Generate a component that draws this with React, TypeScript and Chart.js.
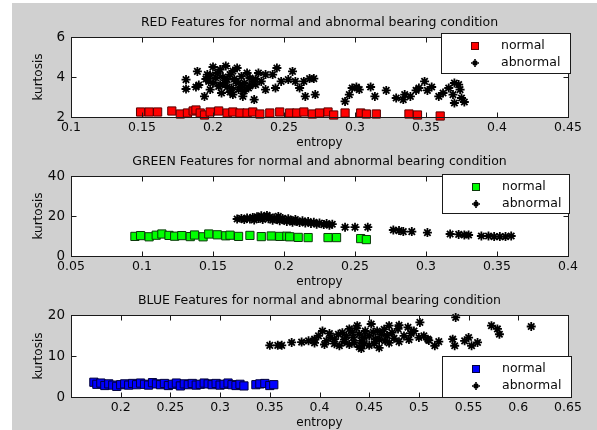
import React, { useEffect, useRef } from "react";
import { Chart, registerables } from "chart.js";
Chart.register(...registerables);

// ---------- data ----------
const redNormal: number[][] = [
  [0.149, 2.25], [0.155, 2.25], [0.161, 2.25], [0.171, 2.3], [0.177, 2.15], [0.182, 2.2], [0.186, 2.3],
  [0.188, 2.35], [0.191, 2.2], [0.194, 2.1], [0.198, 2.25], [0.204, 2.3], [0.21, 2.2], [0.214, 2.25],
  [0.219, 2.2], [0.224, 2.2], [0.228, 2.25], [0.233, 2.15], [0.24, 2.2], [0.247, 2.25], [0.254, 2.2],
  [0.259, 2.2], [0.264, 2.25], [0.27, 2.15], [0.275, 2.2], [0.281, 2.25], [0.285, 2.1], [0.293, 2.2],
  [0.304, 2.2], [0.308, 2.15], [0.315, 2.15], [0.338, 2.15], [0.344, 2.1], [0.36, 2.05],
];
const redAbnormal: number[][] = [
  [0.181, 3.87], [0.181, 3.4], [0.188, 3.5], [0.189, 4.28], [0.194, 3.03], [0.196, 4.12], [0.197, 3.78],
  [0.198, 3.37], [0.2, 4.5], [0.202, 3.95], [0.204, 3.53], [0.205, 4.37], [0.206, 3.2], [0.208, 3.7],
  [0.209, 4.55], [0.21, 3.87], [0.212, 4.12], [0.213, 3.45], [0.214, 3.12], [0.216, 3.78], [0.217, 4.45],
  [0.218, 3.37], [0.22, 4.03], [0.221, 3.03], [0.222, 3.7], [0.224, 4.2], [0.225, 3.45], [0.226, 3.95],
  [0.228, 3.78], [0.229, 2.87], [0.23, 3.62], [0.232, 4.2], [0.234, 3.78], [0.237, 4.12], [0.237, 3.37],
  [0.242, 4.12], [0.244, 3.45], [0.245, 4.45], [0.248, 3.78], [0.253, 3.87], [0.256, 4.28], [0.258, 3.78],
  [0.261, 3.45], [0.264, 3.78], [0.265, 3.03], [0.268, 3.92], [0.271, 3.92], [0.272, 3.12], [0.293, 2.78],
  [0.296, 3.12], [0.298, 3.45], [0.301, 3.5], [0.303, 3.37], [0.311, 3.5], [0.314, 3.03], [0.322, 3.33],
  [0.329, 2.95], [0.334, 2.87], [0.335, 3.12], [0.339, 3.03], [0.343, 3.33], [0.345, 3.45], [0.349, 3.78],
  [0.351, 3.33], [0.354, 3.5], [0.359, 3.03], [0.362, 3.2], [0.366, 3.45], [0.369, 3.12], [0.37, 3.7],
  [0.373, 3.62], [0.374, 3.37], [0.375, 2.95], [0.377, 2.75], [0.37, 2.7],
  [0.205, 3.6], [0.21, 3.5], [0.215, 3.9], [0.2, 3.7], [0.195, 3.9], [0.218, 3.7], [0.222, 3.3],
  [0.207, 4.0], [0.212, 3.25], [0.198, 4.1], [0.226, 3.55], [0.23, 3.9], [0.19, 3.6], [0.203, 4.2],
  [0.214, 4.3], [0.22, 3.5],
];
const greenNormal: number[][] = [
  [0.095, 9.8], [0.099, 10.2], [0.105, 9.6], [0.11, 10.4], [0.114, 11.0], [0.119, 10.3], [0.123, 9.9],
  [0.128, 10.2], [0.134, 9.7], [0.137, 10.5], [0.143, 9.6], [0.147, 11.0], [0.153, 10.6], [0.159, 10.1],
  [0.162, 10.4], [0.168, 9.8], [0.176, 10.3], [0.184, 9.7], [0.191, 10.0], [0.197, 9.8], [0.202, 9.9],
  [0.204, 9.6], [0.21, 9.3], [0.217, 9.2], [0.231, 9.2], [0.237, 9.2], [0.254, 8.7], [0.258, 8.2],
];
const greenAbnormal: number[][] = [
  [0.167, 18.5], [0.17, 18.8], [0.172, 18.2], [0.174, 19.0], [0.176, 18.5], [0.178, 19.3], [0.179, 18.0],
  [0.181, 19.6], [0.182, 18.7], [0.184, 20.1], [0.185, 18.3], [0.186, 19.2], [0.188, 20.3], [0.189, 18.6],
  [0.19, 19.5], [0.192, 17.9], [0.193, 19.0], [0.195, 18.4], [0.196, 19.8], [0.197, 17.6], [0.199, 18.8],
  [0.2, 18.0], [0.202, 17.3], [0.203, 18.6], [0.205, 17.8], [0.206, 16.9], [0.208, 18.2], [0.209, 17.4],
  [0.211, 16.8], [0.213, 17.6], [0.215, 16.5], [0.217, 17.2], [0.219, 16.3], [0.221, 16.9], [0.223, 15.9],
  [0.225, 16.5], [0.228, 15.7], [0.23, 16.2], [0.232, 15.4], [0.234, 15.9],
  [0.243, 14.4], [0.25, 14.4], [0.259, 14.4], [0.277, 13.0], [0.281, 12.7], [0.284, 12.2], [0.29, 12.2],
  [0.301, 11.7], [0.317, 11.0], [0.323, 10.8], [0.327, 10.5], [0.33, 10.5], [0.339, 10.0], [0.344, 10.0],
  [0.348, 9.7], [0.352, 9.7], [0.356, 9.7], [0.36, 10.0],
];
const blueNormal: number[][] = [
  [0.173, 3.6], [0.176, 3.1], [0.18, 3.4], [0.184, 2.8], [0.188, 3.2], [0.192, 2.9], [0.196, 2.6],
  [0.2, 3.0], [0.204, 3.2], [0.208, 2.9], [0.212, 3.3], [0.216, 3.0], [0.22, 3.4], [0.224, 3.1],
  [0.228, 2.9], [0.232, 3.5], [0.236, 3.2], [0.24, 3.0], [0.244, 3.3], [0.248, 2.8], [0.252, 3.1],
  [0.256, 3.4], [0.26, 2.7], [0.264, 3.2], [0.268, 3.0], [0.272, 3.3], [0.276, 2.9], [0.28, 3.1],
  [0.284, 3.4], [0.288, 3.2], [0.292, 3.0], [0.296, 3.3], [0.3, 2.9], [0.304, 3.1], [0.308, 3.4],
  [0.312, 3.0], [0.316, 2.8], [0.32, 3.1], [0.324, 2.7], [0.336, 3.0], [0.34, 3.2], [0.345, 3.3],
  [0.35, 2.8], [0.354, 3.0],
];
const blueAbnormal: number[][] = [
  [0.35, 12.6], [0.358, 12.6], [0.362, 12.6], [0.372, 13.3], [0.382, 13.4], [0.389, 13.7], [0.395, 14.1],
  [0.399, 14.9], [0.403, 16.1], [0.407, 13.7], [0.411, 14.5], [0.415, 14.1], [0.419, 15.3], [0.423, 15.7],
  [0.427, 14.9], [0.43, 16.6], [0.434, 14.5], [0.438, 17.4], [0.44, 15.3], [0.442, 13.7], [0.446, 16.1],
  [0.45, 14.9], [0.452, 17.8], [0.456, 14.1], [0.458, 16.1], [0.462, 15.3], [0.466, 13.7], [0.47, 17.4],
  [0.473, 15.7], [0.479, 16.6], [0.485, 14.9], [0.489, 17.0], [0.495, 16.1], [0.501, 18.2], [0.505, 14.9],
  [0.509, 14.1], [0.516, 12.5], [0.534, 14.1], [0.536, 12.5], [0.537, 19.4], [0.546, 13.7], [0.553, 12.5],
  [0.559, 13.3], [0.573, 17.4], [0.579, 16.6], [0.581, 15.3], [0.613, 17.2], [0.55, 14.5],
  [0.415, 13.0], [0.42, 12.5], [0.425, 13.5], [0.43, 12.8], [0.435, 13.2], [0.44, 12.2], [0.445, 13.0],
  [0.45, 12.6], [0.433, 15.8], [0.445, 14.5], [0.455, 13.0], [0.46, 14.0], [0.465, 16.5], [0.47, 13.2],
  [0.475, 14.3], [0.48, 13.5], [0.49, 14.0], [0.48, 17.5], [0.5, 14.5], [0.51, 13.8], [0.52, 13.5],
  [0.425, 14.0], [0.41, 15.5], [0.395, 13.2], [0.405, 12.8], [0.437, 16.8], [0.454, 15.8], [0.468, 15.0],
  [0.492, 15.5], [0.46, 12.0], [0.442, 11.8],
];

const redXTicks = [0.1, 0.15, 0.2, 0.25, 0.3, 0.35, 0.4, 0.45];
const redYTicks = [2, 4, 6];
const greenXTicks = [0.05, 0.1, 0.15, 0.2, 0.25, 0.3, 0.35, 0.4];
const greenYTicks = [0, 20, 40];
const blueXTicks = [0.15, 0.2, 0.25, 0.3, 0.35, 0.4, 0.45, 0.5, 0.55, 0.6, 0.65];
const blueXLabelHidden = [0.15];
const blueYTicks = [0, 10, 20];

const titles = [
  "RED Features for normal and abnormal bearing condition",
  "GREEN Features for normal and abnormal bearing condition",
  "BLUE Features for normal and abnormal bearing condition",
];
const seriesNames = ["normal", "abnormal"];
const xTitle = "entropy";
const yTitle = "kurtosis";

// ---------- styling / layout ----------
const FONT = "'DejaVu Sans', Arial, sans-serif";
const TICK_FONT_SIZE = 12.5;
const FIG_BG = "#d0d0d0";
const TEXT = "#0a0a0a";

type Panel = {
  top: number;
  height: number;
  padTop: number;
  xAxisH: number;
  titlePadBottom: number;
  title: string;
  normal: number[][];
  abnormal: number[][];
  fill: string;
  edge: string;
  xTicks: number[];
  hidden: number[];
  yTicks: number[];
  legend: { x: number; y: number; w: number; h: number };
};

const panels: Panel[] = [
  {
    top: 0, height: 150, padTop: 37, xAxisH: 33, titlePadBottom: 0, title: titles[0],
    normal: redNormal, abnormal: redAbnormal, fill: "#ff0000", edge: "#5a0000",
    xTicks: redXTicks, hidden: [], yTicks: redYTicks,
    legend: { x: 441, y: 33, w: 129, h: 40 },
  },
  {
    top: 150, height: 140, padTop: 26, xAxisH: 34, titlePadBottom: 1, title: titles[1],
    normal: greenNormal, abnormal: greenAbnormal, fill: "#00ff00", edge: "#0a3a0a",
    xTicks: greenXTicks, hidden: [], yTicks: greenYTicks,
    legend: { x: 442, y: 24, w: 127, h: 39 },
  },
  {
    top: 290, height: 140, padTop: 25, xAxisH: 33, titlePadBottom: 0, title: titles[2],
    normal: blueNormal, abnormal: blueAbnormal, fill: "#0000ff", edge: "#00003a",
    xTicks: blueXTicks, hidden: blueXLabelHidden, yTicks: blueYTicks,
    legend: { x: 442, y: 66, w: 129, h: 41 },
  },
];

const fmt = (v: number) => String(Number(v.toFixed(3)));

function drawStar(ctx: CanvasRenderingContext2D, x: number, y: number, r: number) {
  ctx.beginPath();
  ctx.moveTo(x - r, y); ctx.lineTo(x + r, y);
  ctx.moveTo(x, y - r); ctx.lineTo(x, y + r);
  const d = r * 0.5;
  ctx.moveTo(x - d, y - d); ctx.lineTo(x + d, y + d);
  ctx.moveTo(x - d, y + d); ctx.lineTo(x + d, y - d);
  ctx.stroke();
}

function makeChart(canvas: HTMLCanvasElement, p: Panel) {
  const bgPlugin = {
    id: "areaBg",
    beforeDraw(chart: any) {
      const { ctx, chartArea: a } = chart;
      ctx.save();
      ctx.fillStyle = "#ffffff";
      ctx.fillRect(a.left, a.top, a.right - a.left, a.bottom - a.top);
      ctx.restore();
    },
  };
  const framePlugin = {
    id: "frame",
    afterDatasetsDraw(chart: any) {
      const { ctx, chartArea: a, scales } = chart;
      const L = Math.round(a.left) + 0.5, R = Math.round(a.right) + 0.5;
      const T = Math.round(a.top) + 0.5, B = Math.round(a.bottom) + 0.5;
      ctx.save();
      ctx.strokeStyle = "#1a1a1a";
      ctx.lineWidth = 1;
      ctx.strokeRect(L, T, R - L, B - T);
      const tl = 5;
      ctx.beginPath();
      for (const v of p.xTicks) {
        const px = Math.round(scales.x.getPixelForValue(v)) + 0.5;
        ctx.moveTo(px, B); ctx.lineTo(px, B - tl);
        ctx.moveTo(px, T); ctx.lineTo(px, T + tl);
      }
      for (const v of p.yTicks) {
        const py = Math.round(scales.y.getPixelForValue(v)) + 0.5;
        ctx.moveTo(L, py); ctx.lineTo(L + tl, py);
        ctx.moveTo(R, py); ctx.lineTo(R - tl, py);
      }
      ctx.stroke();
      ctx.restore();
    },
    afterDraw(chart: any) {
      const { ctx, chartArea: a } = chart;
      ctx.save();
      // title
      ctx.fillStyle = TEXT;
      ctx.font = `12.5px ${FONT}`;
      ctx.textAlign = "center";
      ctx.textBaseline = "middle";
      ctx.fillText(p.title, (a.left + a.right) / 2, a.top - 14.5);
      // legend
      const lg = p.legend;
      ctx.fillStyle = "#ffffff";
      ctx.fillRect(lg.x, lg.y, lg.w, lg.h);
      ctx.strokeStyle = "#1a1a1a";
      ctx.lineWidth = 1;
      ctx.strokeRect(lg.x + 0.5, lg.y + 0.5, lg.w, lg.h);
      const mx = lg.x + 34;
      const r1 = lg.y + 13, r2 = lg.y + 30;
      ctx.fillStyle = p.fill;
      ctx.strokeStyle = p.edge;
      ctx.fillRect(mx - 4, r1 - 4, 8, 8);
      ctx.strokeRect(mx - 4 + 0.5, r1 - 4 + 0.5, 7, 7);
      ctx.strokeStyle = "#000";
      ctx.lineWidth = 1.6;
      drawStar(ctx, mx, r2, 4);
      ctx.fillStyle = TEXT;
      ctx.font = `12.5px ${FONT}`;
      ctx.textAlign = "left";
      ctx.fillText(seriesNames[0], lg.x + 60, r1);
      ctx.fillText(seriesNames[1], lg.x + 60, r2);
      ctx.restore();
    },
  };

  const xMin = p.xTicks[0], xMax = p.xTicks[p.xTicks.length - 1];
  const yMin = p.yTicks[0], yMax = p.yTicks[p.yTicks.length - 1];

  return new Chart(canvas, {
    type: "scatter",
    data: {
      datasets: [
        {
          label: seriesNames[1],
          data: p.abnormal.map(([x, y]) => ({ x, y })),
          pointStyle: "star",
          pointRadius: 4.5,
          borderColor: "#000000",
          backgroundColor: "#000000",
          borderWidth: 1.8,
          clip: 8,
        },
        {
          label: seriesNames[0],
          data: p.normal.map(([x, y]) => ({ x, y })),
          pointStyle: "rect",
          pointRadius: 5.8,
          backgroundColor: p.fill,
          borderColor: p.edge,
          borderWidth: 1,
          clip: 8,
        },
      ],
    },
    options: {
      animation: false,
      responsive: false,
      maintainAspectRatio: false,
      events: [],
      layout: { padding: { top: p.padTop, right: 29, left: 0, bottom: 0 } },
      plugins: {
        legend: { display: false },
        tooltip: { enabled: false },
        title: { display: false },
      },
      scales: {
        x: {
          type: "linear",
          min: xMin,
          max: xMax,
          afterBuildTicks: (s: any) => {
            s.ticks = p.xTicks.map((v) => ({ value: v }));
          },
          afterFit: (s: any) => {
            s.height = p.xAxisH;
          },
          ticks: {
            autoSkip: false,
            maxRotation: 0,
            padding: 3,
            color: TEXT,
            font: { family: FONT, size: TICK_FONT_SIZE },
            callback: (v: any) => (p.hidden.includes(Number(v)) ? "" : fmt(Number(v))),
          },
          grid: { display: false, drawTicks: false },
          border: { display: false },
          title: {
            display: true,
            text: xTitle,
            color: TEXT,
            font: { family: FONT, size: 12 },
            padding: { top: 0, bottom: p.titlePadBottom },
          },
        },
        y: {
          type: "linear",
          min: yMin,
          max: yMax,
          afterBuildTicks: (s: any) => {
            s.ticks = p.yTicks.map((v) => ({ value: v }));
          },
          afterFit: (s: any) => {
            s.width = 71;
          },
          ticks: {
            autoSkip: false,
            padding: 6,
            color: TEXT,
            font: { family: FONT, size: 13.5 },
            callback: (v: any) => fmt(Number(v)),
          },
          grid: { display: false, drawTicks: false },
          border: { display: false },
          title: {
            display: true,
            text: yTitle,
            color: TEXT,
            font: { family: FONT, size: 12 },
            padding: { top: 32, bottom: 0 },
          },
        },
      },
    } as any,
    plugins: [bgPlugin, framePlugin],
  });
}

function PanelChart({ p }: { p: Panel }) {
  const ref = useRef<HTMLCanvasElement | null>(null);
  useEffect(() => {
    if (!ref.current) return;
    const c = makeChart(ref.current, p);
    return () => c.destroy();
  }, [p]);
  return (
    <canvas
      ref={ref}
      width={597}
      height={p.height}
      style={{ position: "absolute", left: 0, top: p.top, width: 597, height: p.height }}
    />
  );
}

export default function App() {
  return (
    <div style={{ position: "absolute", left: 0, top: 0, width: 597, height: 430, background: "#ffffff", overflow: "hidden" }}>
      <div style={{ position: "absolute", left: 12, top: 3, width: 585, height: 427, background: FIG_BG }} />
      {panels.map((p, i) => (
        <PanelChart key={i} p={p} />
      ))}
    </div>
  );
}
